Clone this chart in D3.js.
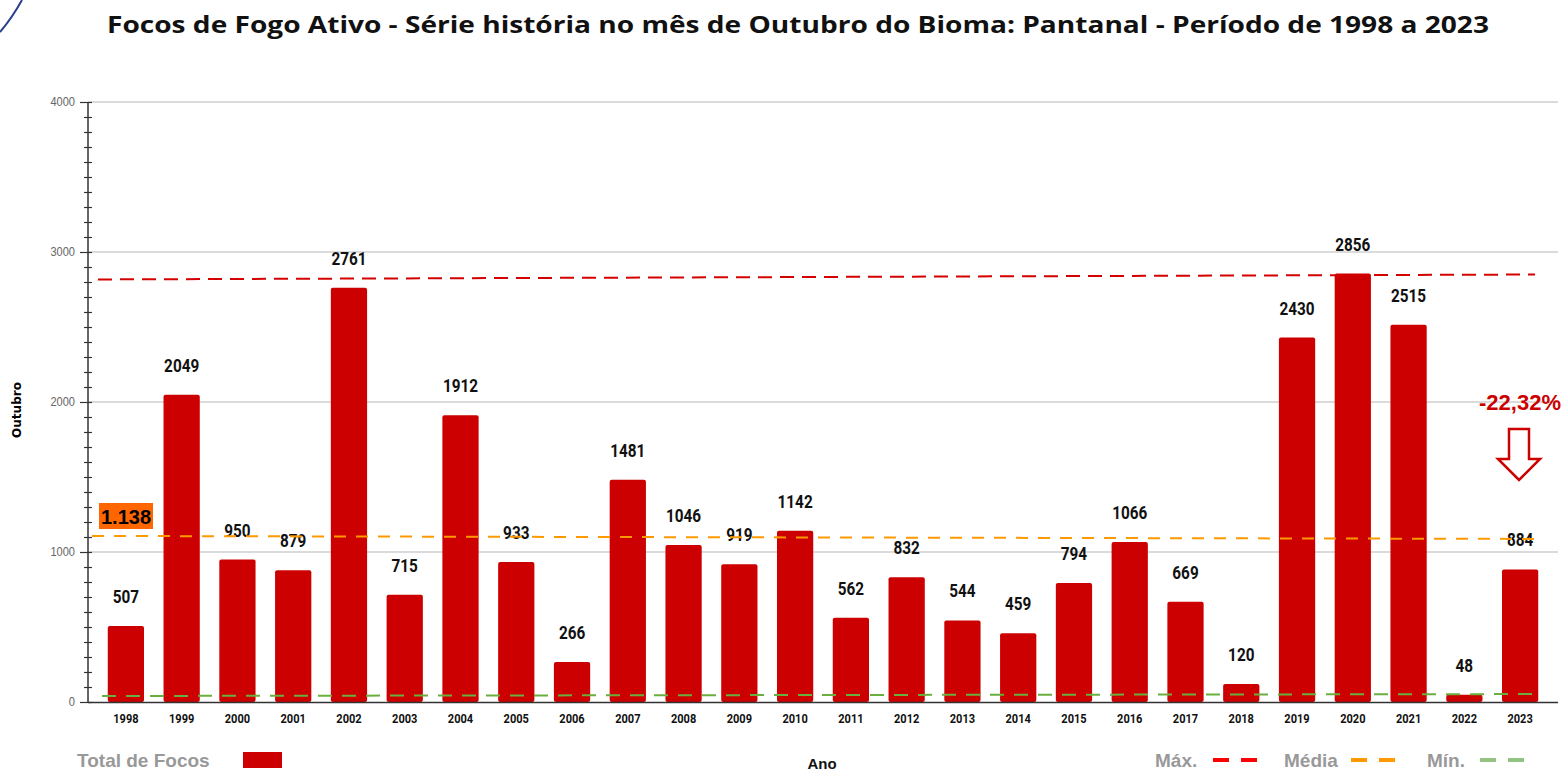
<!DOCTYPE html>
<html>
<head>
<meta charset="utf-8">
<script src="https://cdn.jsdelivr.net/npm/d3@7"></script>
<style>
  body { margin: 0; background: #fff; }
  svg { display: block; }
</style>
</head>
<body>
<div class="chart"></div>
<script>
var svgWidth = 1568;
var svgHeight = 771;

// data
var years = ["1998", "1999", "2000", "2001", "2002", "2003", "2004", "2005", "2006", "2007",
  "2008", "2009", "2010", "2011", "2012", "2013", "2014", "2015", "2016", "2017",
  "2018", "2019", "2020", "2021", "2022", "2023"];
var focos = [507, 2049, 950, 879, 2761, 715, 1912, 933, 266, 1481,
  1046, 919, 1142, 562, 832, 544, 459, 794, 1066, 669,
  120, 2430, 2856, 2515, 48, 884];
var yTicks = [0, 1000, 2000, 3000, 4000];

// reference lines (value at the left end, value at the right end) - drawn by hand in the original
var refNames = ["Máx.", "Média", "Mín."];
var refStart = [2817, 1107, 40];
var refEnd = [2850, 1087, 53];
var refColors = ["#d40000", "#ff9900", "#6aaf3d"];

var mediaLabel = "1.138";
var variacao = "-22,32%";

var svg = d3.select(".chart").append("svg")
  .attr("width", svgWidth)
  .attr("height", svgHeight);

var plotLeft = 88, plotRight = 1558;
var narrow = "Roboto, 'Liberation Sans', sans-serif";

var x = d3.scaleBand()
  .domain(years)
  .range([98, 1548])
  .paddingInner(0.35)
  .paddingOuter(0.175);

var y = d3.scaleLinear()
  .domain([0, 4000])
  .range([702, 102]);

// little blue swoosh in the corner
svg.append("path")
  .attr("d", "M0,32 Q12,18 22,0")
  .attr("fill", "none")
  .attr("stroke", "#2b3f8f")
  .attr("stroke-width", 2);

// title
svg.append("text")
  .attr("x", 798)
  .attr("y", 33)
  .attr("text-anchor", "middle")
  .style("font-family", "'Open Sans', sans-serif")
  .style("font-weight", "700")
  .style("font-size", "23px")
  .attr("textLength", 1382)
  .attr("lengthAdjust", "spacingAndGlyphs")
  .attr("fill", "#111")
  .text("Focos de Fogo Ativo - Série história no mês de Outubro do Bioma: Pantanal - Período de 1998 a 2023");

// gridlines
svg.append("g")
  .selectAll("line")
  .data(yTicks.slice(1))
  .enter()
  .append("line")
  .attr("x1", plotLeft)
  .attr("x2", plotRight)
  .attr("y1", (d) => y(d))
  .attr("y2", (d) => y(d))
  .attr("stroke", "#cfcfcf")
  .attr("stroke-width", 1.3);

// minor ticks every 100
var minor = d3.range(0, 4001, 100);
svg.append("g")
  .selectAll("line")
  .data(minor)
  .enter()
  .append("line")
  .attr("x1", (d) => (d % 1000 === 0 ? 80 : 84))
  .attr("x2", 92)
  .attr("y1", (d) => Math.round(y(d)) + 0.5)
  .attr("y2", (d) => Math.round(y(d)) + 0.5)
  .attr("stroke", "#333")
  .attr("stroke-width", 1.2);

// y axis line
svg.append("line")
  .attr("x1", plotLeft).attr("x2", plotLeft)
  .attr("y1", y(4000)).attr("y2", y(0))
  .attr("stroke", "#333")
  .attr("stroke-width", 1.5);

// y tick labels
svg.append("g")
  .selectAll("text")
  .data(yTicks)
  .enter()
  .append("text")
  .attr("transform", (d) => `translate(75,${y(d) + 4}) scale(0.85,1)`)
  .attr("text-anchor", "end")
  .style("font-family", "'Liberation Sans', sans-serif")
  .style("font-size", "13px")
  .attr("fill", "#666")
  .text((d) => d);

// bars
svg.append("g")
  .selectAll("rect")
  .data(focos)
  .enter()
  .append("rect")
  .attr("x", (d, i) => x(years[i]))
  .attr("y", (d) => y(d))
  .attr("width", x.bandwidth())
  .attr("height", (d) => y(0) - y(d))
  .attr("rx", 2)
  .attr("fill", "#cc0000");

// x axis line
svg.append("line")
  .attr("x1", plotLeft).attr("x2", plotRight)
  .attr("y1", 702.5).attr("y2", 702.5)
  .attr("stroke", "#333")
  .attr("stroke-width", 1.5);

// year labels
svg.append("g")
  .selectAll("text")
  .data(years)
  .enter()
  .append("text")
  .attr("transform", (d) => `translate(${x(d) + x.bandwidth() / 2},723) scale(0.85,1)`)
  .attr("text-anchor", "middle")
  .style("font-family", narrow)
  .style("font-weight", "700")
  .style("font-size", "13px")
  .attr("fill", "#111")
  .text((d) => d);

// value labels
svg.append("g")
  .selectAll("text")
  .data(focos)
  .enter()
  .append("text")
  .attr("transform", (d, i) => `translate(${x(years[i]) + x.bandwidth() / 2},${y(d) - 23}) scale(0.85,1)`)
  .attr("text-anchor", "middle")
  .style("font-family", narrow)
  .style("font-weight", "700")
  .style("font-size", "18px")
  .attr("fill", "#111")
  .text((d) => d);

// dashed reference lines
var dashes = ["14,8", "12,10", "14,10"];
var refX1 = [98, 92, 102];
var refX2 = [1535, 1540, 1540];
svg.append("g")
  .selectAll("line")
  .data(refNames)
  .enter()
  .append("line")
  .attr("x1", (d, i) => refX1[i])
  .attr("x2", (d, i) => refX2[i])
  .attr("y1", (d, i) => y(refStart[i]))
  .attr("y2", (d, i) => y(refEnd[i]))
  .attr("stroke", (d, i) => refColors[i])
  .attr("stroke-width", 2)
  .attr("stroke-dasharray", (d, i) => dashes[i]);

// média badge
svg.append("rect")
  .attr("x", 99).attr("y", 503)
  .attr("width", 54).attr("height", 26)
  .attr("fill", "#ff6600");
svg.append("text")
  .attr("x", 126).attr("y", 524)
  .attr("text-anchor", "middle")
  .style("font-family", "'Liberation Sans', Arial, sans-serif")
  .style("font-weight", "700")
  .style("font-size", "20px")
  .attr("fill", "#000")
  .text(mediaLabel);

// variation note and arrow
svg.append("text")
  .attr("x", 1520).attr("y", 410)
  .attr("text-anchor", "middle")
  .style("font-family", "'Liberation Sans', Arial, sans-serif")
  .style("font-weight", "700")
  .style("font-size", "22px")
  .attr("fill", "#cc0000")
  .text(variacao);

svg.append("path")
  .attr("d", "M1509,429 L1529,429 L1529,459 L1540,459 L1519,480 L1498,459 L1509,459 Z")
  .attr("fill", "#fff")
  .attr("stroke", "#cc0000")
  .attr("stroke-width", 2.5)
  .attr("stroke-linejoin", "miter");

// y axis title
svg.append("text")
  .attr("transform", "translate(21,410) rotate(-90)")
  .attr("text-anchor", "middle")
  .style("font-family", "'DejaVu Sans', sans-serif")
  .style("font-weight", "700")
  .style("font-size", "12px")
  .attr("fill", "#000")
  .text("Outubro");

// x axis title
svg.append("text")
  .attr("x", 822).attr("y", 769)
  .attr("text-anchor", "middle")
  .style("font-family", "'Liberation Sans', Arial, sans-serif")
  .style("font-weight", "700")
  .style("font-size", "15px")
  .attr("fill", "#111")
  .text("Ano");

// legends
var legendFont = "'Liberation Sans', Arial, sans-serif";
svg.append("text")
  .attr("x", 77).attr("y", 767)
  .style("font-family", legendFont)
  .style("font-weight", "700")
  .style("font-size", "19px")
  .attr("fill", "#999")
  .text("Total de Focos");
svg.append("rect")
  .attr("x", 243).attr("y", 752)
  .attr("width", 39).attr("height", 16)
  .attr("fill", "#cc0000");

var legX = [1155, 1284, 1427];
var legLineX = [1213, 1351, 1480];
var legColors = ["#ff0000", "#ff9900", "#93c47d"];
var leg = svg.append("g")
  .selectAll("g")
  .data(refNames)
  .enter()
  .append("g");
leg.append("text")
  .attr("x", (d, i) => legX[i])
  .attr("y", 767)
  .style("font-family", legendFont)
  .style("font-weight", "700")
  .style("font-size", "19px")
  .attr("fill", "#999")
  .text((d) => d);
leg.append("line")
  .attr("x1", (d, i) => legLineX[i])
  .attr("x2", (d, i) => legLineX[i] + 45)
  .attr("y1", 760)
  .attr("y2", 760)
  .attr("stroke", (d, i) => legColors[i])
  .attr("stroke-width", 4)
  .attr("stroke-dasharray", "16,12");
</script>
</body>
</html>
